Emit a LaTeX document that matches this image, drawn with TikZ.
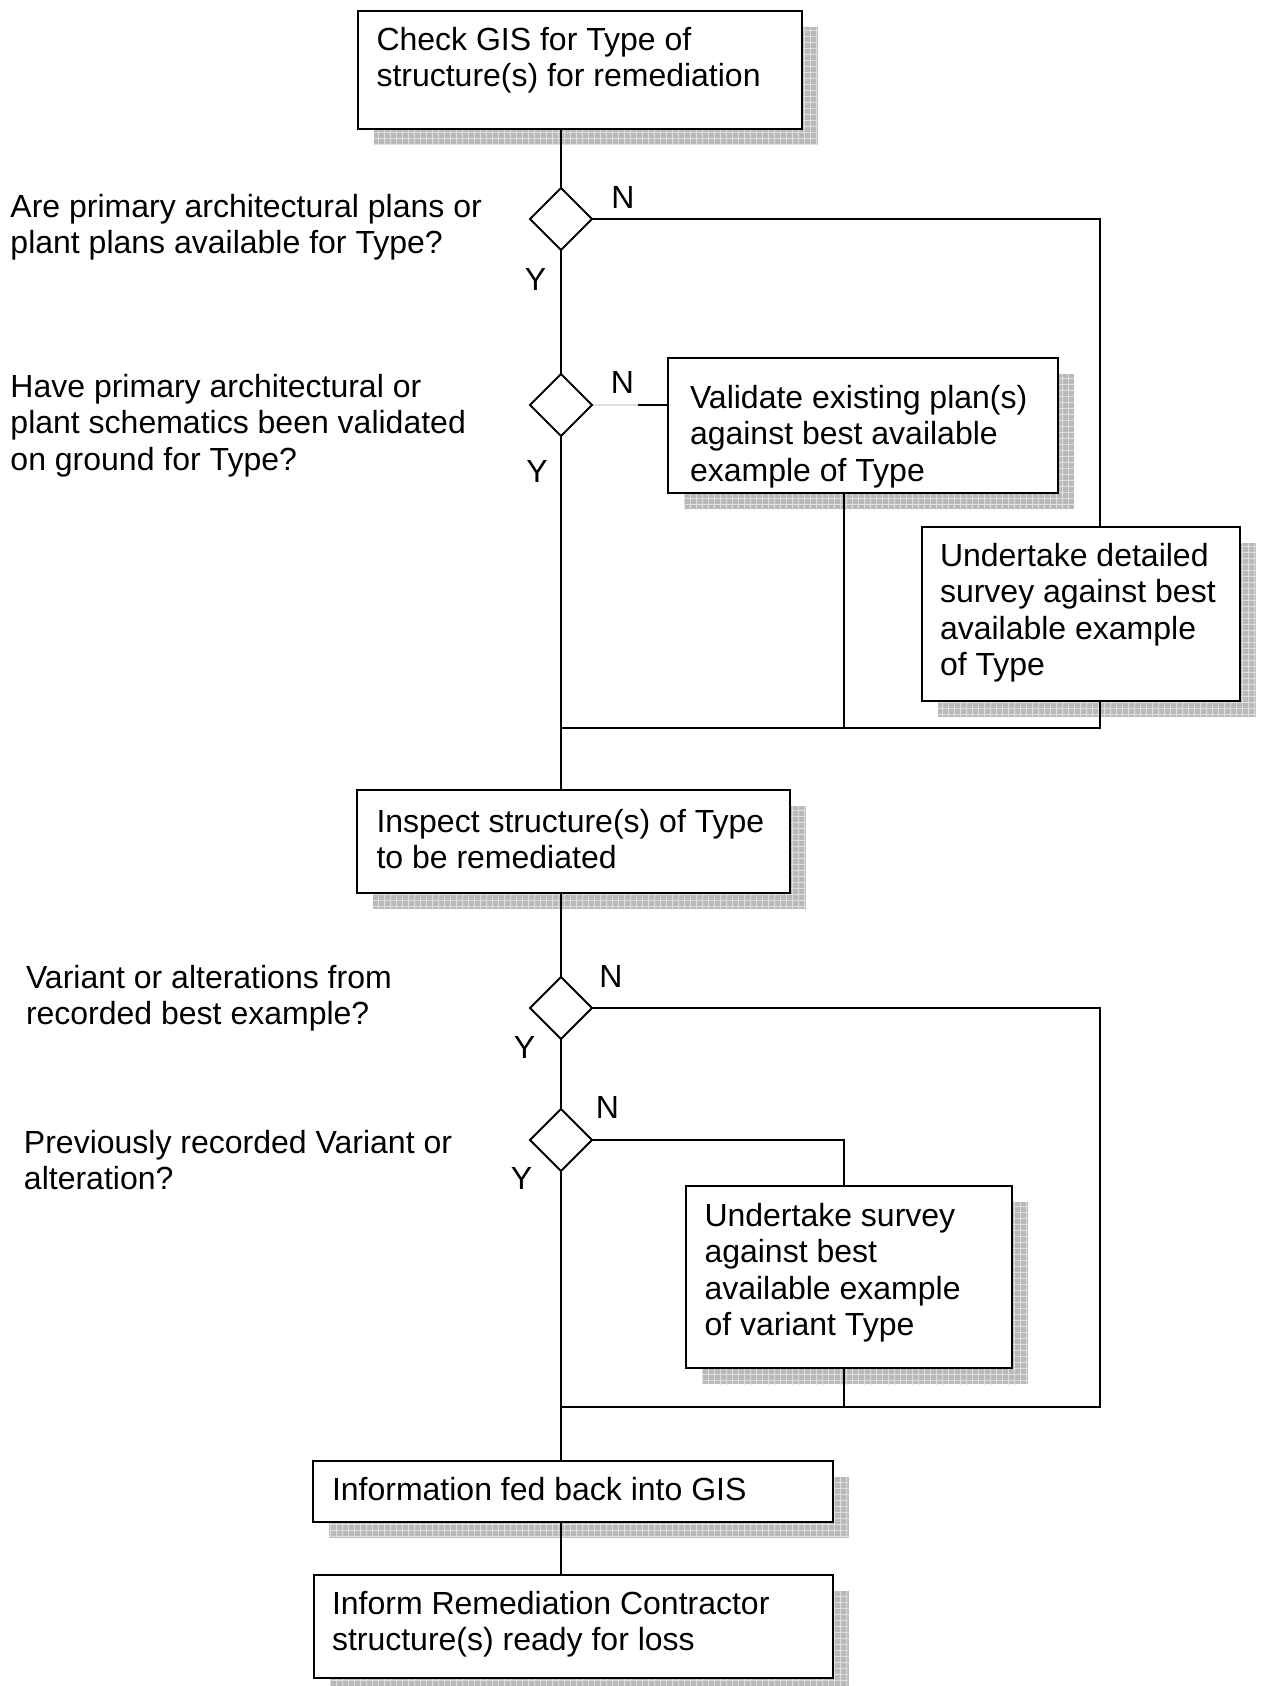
\documentclass[tikz,border=0pt]{standalone}
\usepackage{fontspec}
\setmainfont{Liberation Sans}
\usetikzlibrary{shapes.geometric,patterns,backgrounds,calc}
\begin{document}
\begin{tikzpicture}[x=0.5pt,y=-0.5pt,
  every node/.style={inner sep=0pt, outer sep=0pt},
  procbox/.style={draw, line width=1.1pt, fill=white, rectangle, anchor=north west},
  decision/.style={draw, line width=0.9pt, fill=white, diamond, minimum width=31pt, minimum height=31pt},
  txt/.style={anchor=north west, align=left, font=\fontsize{16}{18.3}\selectfont},
  yn/.style={font=\fontsize{16}{18.3}\selectfont},
  conn/.style={line width=0.9pt},
  faint/.style={line width=0.9pt, gray!25},
  shadowst/.style={fill=gray!55, postaction={pattern=grid, pattern color=gray!25}}
]
\useasboundingbox (0,0) rectangle (1263,1686);

% process boxes
\node[procbox, minimum width=222pt, minimum height=59pt] (b1) at (358,11) {};
\node[procbox, minimum width=195pt, minimum height=67.5pt] (bv) at (668,358) {};
\node[procbox, minimum width=159pt, minimum height=87pt] (bd) at (922,527) {};
\node[procbox, minimum width=216.5pt, minimum height=51.5pt] (bi) at (357,790) {};
\node[procbox, minimum width=163pt, minimum height=91pt] (bs) at (686,1186) {};
\node[procbox, minimum width=260pt, minimum height=30.5pt] (bf) at (313,1461) {};
\node[procbox, minimum width=259.5pt, minimum height=51.5pt] (bn) at (314,1575) {};

% box texts
\node[txt] (t1) at (376.5,24.5) {\strut Check GIS for Type of\\\strut structure(s) for remediation};
\node[txt] (tv) at (690,382.5) {\strut Validate existing plan(s)\\\strut against best available\\\strut example of Type};
\node[txt] (td) at (940,540.5) {\strut Undertake detailed\\\strut survey against best\\\strut available example\\\strut of Type};
\node[txt] (ti) at (376.5,806.5) {\strut Inspect structure(s) of Type\\\strut to be remediated};
\node[txt] (ts) at (704.5,1200.5) {\strut Undertake survey\\\strut against best\\\strut available example\\\strut of variant Type};
\node[txt] (tf) at (332,1474.5) {\strut Information fed back into GIS};
\node[txt] (tn) at (332,1588.5) {\strut Inform Remediation Contractor\\\strut structure(s) ready for loss};

% questions
\node[txt] (q1) at (10.5,191.5) {\strut Are primary architectural plans or\\\strut plant plans available for Type?};
\node[txt] (q2) at (10.5,371.5) {\strut Have primary architectural or\\\strut plant schematics been validated\\\strut on ground for Type?};
\node[txt] (q3) at (26,962.5) {\strut Variant or alterations from\\\strut recorded best example?};
\node[txt] (q4) at (24,1127.5) {\strut Previously recorded Variant or\\\strut alteration?};

% decisions
\node[decision] (d1) at (561,219) {};
\node[decision] (d2) at (561,405) {};
\node[decision] (d3) at (561,1008) {};
\node[decision] (d4) at (561,1140) {};

% Y / N labels
\node[yn] (n1) at (623,197.5) {N};
\node[yn] (y1) at (535.5,279) {Y};
\node[yn] (n2) at (622.5,382) {N};
\node[yn] (y2) at (537,471) {Y};
\node[yn] (n3) at (611,976) {N};
\node[yn] (y3) at (524.5,1047) {Y};
\node[yn] (n4) at (607.5,1107.5) {N};
\node[yn] (y4) at (521.5,1178) {Y};

% connector corner points
\coordinate (c1) at (1100,219);
\coordinate (c2) at (1100,728);
\coordinate (j1) at (561,728);
\coordinate (n2s) at (638,405);
\coordinate (v1) at (844,728);
\coordinate (c3) at (1100,1008);
\coordinate (c4) at (1100,1407);
\coordinate (j2) at (561,1407);
\coordinate (c5) at (844,1140);
\coordinate (v2) at (844,1407);

\begin{scope}[on background layer]
  % shadows
  \foreach \b in {b1,bv,bd,bi,bs,bf,bn}{
    \fill[shadowst] ([xshift=8pt,yshift=-8pt]\b.south west) rectangle ([xshift=8pt,yshift=-8pt]\b.north east);
  }
  % connectors
  \draw[conn] (d1.north |- b1.south) -- (d1.north);
  \draw[conn] (d1.south) -- (d2.north);
  \draw[conn] (d2.south) -- (j1) -- (d2.south |- bi.north);
  \draw[conn] (d1.east) -- (c1) -- (c2) -- (j1);
  \draw[faint] (d2.east) -- (n2s);
  \draw[conn] (n2s) -- (n2s -| bv.west);
  \draw[conn] (v1 |- bv.south) -- (v1);
  \draw[conn] (d3.north |- bi.south) -- (d3.north);
  \draw[conn] (d3.south) -- (d4.north);
  \draw[conn] (d4.south) -- (j2) -- (d4.south |- bf.north);
  \draw[conn] (d3.east) -- (c3) -- (c4) -- (j2);
  \draw[conn] (d4.east) -- (c5) -- (c5 |- bs.north);
  \draw[conn] (v2 |- bs.south) -- (v2);
  \draw[conn] (d4.south |- bf.south) -- (d4.south |- bn.north);
\end{scope}
\end{tikzpicture}
\end{document}
